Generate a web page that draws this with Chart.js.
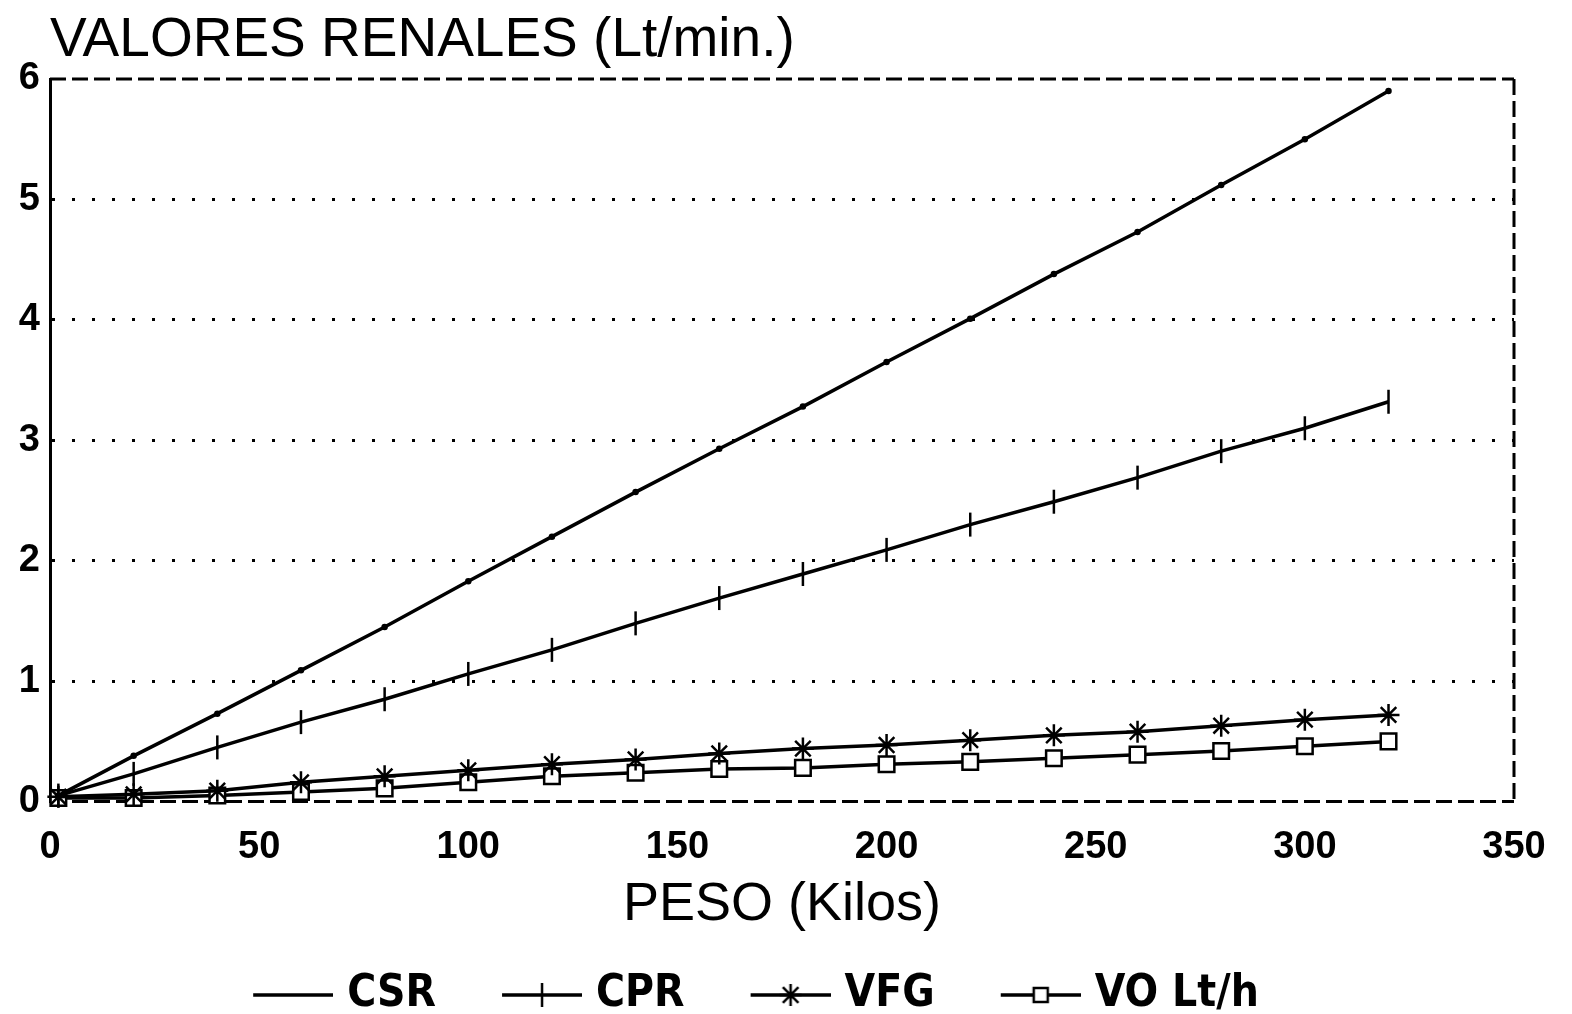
<!DOCTYPE html>
<html><head><meta charset="utf-8">
<script src="https://cdn.jsdelivr.net/npm/chart.js@4.4.1/dist/chart.umd.min.js"></script>
<style>html,body{margin:0;padding:0;background:#fff;overflow:hidden}#wrap{width:1572px;height:1014px;position:relative}</style>
</head><body><div id="wrap"><canvas id="c" width="1572" height="1014"></canvas></div>
<script>
const titleText = 'VALORES RENALES (Lt/min.)';
const xTitle = 'PESO (Kilos)';
const seriesNames = ['CSR', 'CPR', 'VFG', 'VO Lt/h'];
const pesos = [2, 20, 40, 60, 80, 100, 120, 140, 160, 180, 200, 220, 240, 260, 280, 300, 320];
const csr = [0.05, 0.38, 0.73, 1.09, 1.45, 1.83, 2.2, 2.57, 2.93, 3.28, 3.65, 4.01, 4.38, 4.73, 5.12, 5.5, 5.9];
const cpr = [0.05, 0.23, 0.45, 0.66, 0.85, 1.06, 1.26, 1.48, 1.69, 1.89, 2.09, 2.3, 2.49, 2.69, 2.91, 3.1, 3.32];
const vfg = [0.04, 0.06, 0.09, 0.16, 0.21, 0.26, 0.31, 0.35, 0.4, 0.44, 0.47, 0.51, 0.55, 0.58, 0.63, 0.68, 0.72];
const vo  = [0.03, 0.03, 0.05, 0.08, 0.11, 0.16, 0.21, 0.24, 0.27, 0.28, 0.31, 0.33, 0.36, 0.39, 0.42, 0.46, 0.5];
const xTicks = [0, 50, 100, 150, 200, 250, 300, 350];
const yTicks = [0, 1, 2, 3, 4, 5, 6];

const INK = '#000';
const toPts = arr => pesos.map((p, i) => ({x: p, y: arr[i]}));

function makeIcon(kind) {
  const cv = document.createElement('canvas');
  cv.width = 150; cv.height = 30;
  const g = cv.getContext('2d');
  g.strokeStyle = INK; g.lineWidth = 3.5; g.lineCap = 'butt';
  g.beginPath(); g.moveTo(70, 15); g.lineTo(150, 15); g.stroke();
  g.lineWidth = 2.5;
  const cx = 110;
  if (kind === 'cross') { g.beginPath(); g.moveTo(cx, 3); g.lineTo(cx, 27); g.stroke(); }
  if (kind === 'star') {
    g.beginPath();
    for (let k = 0; k < 4; k++) { const a = k * Math.PI / 4; g.moveTo(cx - 11 * Math.cos(a), 15 - 11 * Math.sin(a)); g.lineTo(cx + 11 * Math.cos(a), 15 + 11 * Math.sin(a)); }
    g.stroke();
  }
  if (kind === 'rect') { g.fillStyle = '#fff'; g.fillRect(cx - 7, 8, 14, 14); g.strokeRect(cx - 7, 8, 14, 14); }
  return cv;
}
const icons = [makeIcon('none'), makeIcon('cross'), makeIcon('star'), makeIcon('rect')];

const framePlugin = {
  id: 'frame',
  beforeDatasetsDraw(chart) {
    const {ctx, chartArea: a} = chart;
    ctx.save();
    ctx.strokeStyle = INK; ctx.lineWidth = 3;
    ctx.setLineDash([16, 6]);
    ctx.beginPath();
    ctx.moveTo(a.left, a.top); ctx.lineTo(a.right, a.top);
    ctx.moveTo(a.right, a.top); ctx.lineTo(a.right, a.bottom);
    ctx.moveTo(a.left, a.bottom); ctx.lineTo(a.right, a.bottom);
    ctx.stroke();
    ctx.restore();
  }
};

// the reference legend row sits a little left of the canvas centre
const legendShift = {
  id: 'legendShift',
  afterUpdate(chart) {
    const lg = chart.legend;
    if (!lg) return;
    lg.left -= 32; lg.right -= 32;
  }
};

const mk = (label, data, style, radius, rot) => ({
  label, data: toPts(data), borderColor: INK, backgroundColor: style === 'rect' ? '#fff' : INK,
  borderWidth: 3.5, pointStyle: style, pointRadius: radius, pointRotation: rot || 0,
  pointBorderWidth: 2.5, pointBorderColor: INK, pointBackgroundColor: style === 'rect' ? '#fff' : INK,
  tension: 0, showLine: true, fill: false, clip: false
});

new Chart(document.getElementById('c'), {
  type: 'scatter',
  data: {
    datasets: [
      mk(seriesNames[0], csr, 'circle', 2),
      mk(seriesNames[1], cpr, 'line', 12, 90),
      mk(seriesNames[2], vfg, 'star', 11),
      mk(seriesNames[3], vo, 'rect', 11)
    ]
  },
  options: {
    responsive: false, animation: false, devicePixelRatio: 1,
    layout: {padding: {left: 0, right: 58, top: 0, bottom: -13}},
    plugins: {
      tooltip: {enabled: false},
      title: {display: true, fullSize: false, text: titleText, align: 'start', color: INK,
        font: {family: "'Liberation Sans', Arial, sans-serif", size: 55, weight: 'normal'},
        padding: {top: 8, bottom: 5}},
      legend: {position: 'bottom',
        labels: {color: INK, usePointStyle: true, pointStyleWidth: 134, padding: 4,
          font: {family: "'Liberation Sans Narrow', 'DejaVu Sans Condensed', sans-serif", size: 44, weight: 'bold'},
          generateLabels(chart) {
            const items = Chart.defaults.plugins.legend.labels.generateLabels(chart);
            items.forEach((it, i) => { it.pointStyle = icons[i]; it.rotation = 0; });
            return items;
          }}}
    },
    scales: {
      x: {type: 'linear', min: 0, max: 350,
        afterBuildTicks(s) { s.ticks = xTicks.map(v => ({value: v})); },
        grid: {display: false, drawTicks: false},
        border: {display: false},
        ticks: {color: INK, padding: 23, font: {family: "'Liberation Sans', Arial, sans-serif", size: 38, weight: 'bold'}},
        title: {display: true, text: xTitle, color: INK, padding: {top: -20, bottom: 31},
          font: {family: "'Liberation Sans', Arial, sans-serif", size: 54, weight: 'normal'}}
      },
      y: {type: 'linear', min: 0, max: 6,
        afterBuildTicks(s) { s.ticks = yTicks.map(v => ({value: v})); },
        afterFit(s) { s.width = 50; },
        grid: {drawTicks: false, lineWidth: 3,
          color: ctx => (ctx.tick && (ctx.tick.value === 0 || ctx.tick.value === 6)) ? 'rgba(0,0,0,0)' : INK},
        border: {display: true, color: INK, width: 3, dash: [3, 17]},
        ticks: {color: INK, padding: 10, font: {family: "'Liberation Sans', Arial, sans-serif", size: 38, weight: 'bold'}}
      }
    }
  },
  plugins: [framePlugin, legendShift]
});
</script></body></html>
